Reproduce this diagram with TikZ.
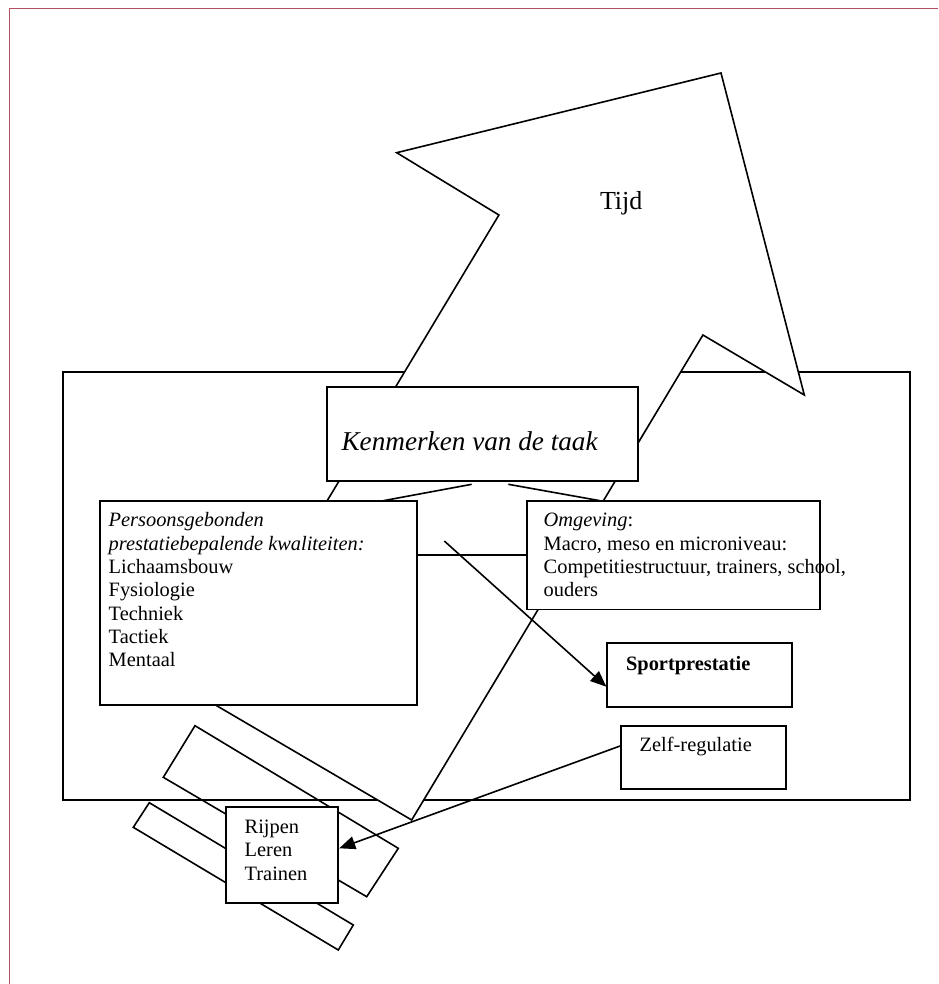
\documentclass[tikz,border=0pt]{standalone}
\usepackage{fontspec}
\setmainfont{Liberation Serif}
\usetikzlibrary{arrows.meta,fit}
\definecolor{pageframe}{RGB}{180,82,98}
\begin{document}
\begin{tikzpicture}[x=0.5pt,y=-0.5pt,
  box/.style={draw, line width=0.95pt, fill=white, inner sep=0pt, rectangle},
  bigline/.style={draw, line width=0.8pt, line join=miter},
  txt/.style={inner sep=0pt, anchor=base west, align=left, font=\fontsize{10.2}{11.65}\selectfont},
  con/.style={draw, line width=0.8pt},
  arr/.style={con, -{Triangle[length=8pt,width=6.5pt]}}
]
\useasboundingbox (0,0) rectangle (938,984);
% page frame
\draw[pageframe, line width=0.7pt] (9.3,984) -- (9.3,8.3) -- (938,8.3);
% outer rectangle
\node[box, fill=none, fit={(62.7,372.3) (910,800)}] (outer) {};
% big arrow "Tijd"
\coordinate (t1) at (721,73);
\coordinate (t2) at (804.3,395);
\coordinate (t3) at (702.9,335);
\coordinate (t4) at (411.7,820);
\coordinate (t5) at (207.3,700.2);
\coordinate (t6) at (498.9,215);
\coordinate (t7) at (396.7,152.7);
\draw[bigline, fill=white] (t1) -- (t2) -- (t3) -- (t4) -- (t5) -- (t6) -- (t7) -- cycle;
\node[anchor=base west, inner sep=0pt, font=\fontsize{13}{15}\selectfont] (tijd) at (599.6,209.3) {Tijd};
% tilted bars
\draw[bigline] (195,725.7) -- (398.3,848.3) -- (366.7,896.7) -- (163.3,777.3) -- cycle;
\draw[bigline] (149.3,802.7) -- (353.3,925) -- (338.3,950) -- (133.3,827.3) -- cycle;
% boxes
\node[box, fit={(326.7,386.7) (637.8,480.7)}] (taak) {};
\node[box, fit={(100,500.7) (416.7,705)}] (pers) {};
\node[box, fit={(526.7,500.7) (820,609.5)}] (omg) {};
\node[box, fit={(607.3,643.3) (792.3,706.7)}] (sport) {};
\node[box, fit={(621,725.7) (785.7,789)}] (zelf) {};
\node[box, fit={(226,806.7) (338.3,902.7)}] (rlt) {};
% texts (anchor = baseline of the last line)
\node[anchor=base west, inner sep=0pt, font=\fontsize{13.6}{16}\selectfont\itshape] (taaktxt) at (341.2,450) {Kenmerken van de taak};
\node[txt] (perstxt) at (108.3,666.7) {\textit{Persoonsgebonden}\\\textit{prestatiebepalende kwaliteiten:}\\Lichaamsbouw\\Fysiologie\\Techniek\\Tactiek\\Mentaal};
\node[txt] (omgtxt) at (543.3,596.7) {\textit{Omgeving}:\\Macro, meso en microniveau:\\Competitiestructuur, trainers, school,\\ouders};
\node[txt, font=\fontsize{10.2}{11.65}\selectfont\bfseries] (sporttxt) at (625.7,670) {Sportprestatie};
\node[txt] (zelftxt) at (639.3,751) {Zelf-regulatie};
\node[txt] (rlttxt) at (244.3,880) {Rijpen\\Leren\\Trainen};
% connectors
\coordinate (cl1) at (471.7,484.3);
\coordinate (cl2) at (383.3,500.7);
\coordinate (cr1) at (508.3,484.3);
\coordinate (cr2) at (600,500.7);
\draw[con] (cl1) -- (cl2);
\draw[con] (cr1) -- (cr2);
\coordinate (hl) at (470,555);
\draw[con] (pers.east |- hl) -- (omg.west |- hl);
\coordinate (sa) at (444.3,541);
\coordinate (spy) at (0,686.7);
\draw[arr] (sa) -- (sport.west |- spy);
\coordinate (zy) at (0,746);
\coordinate (ry) at (0,848.3);
\draw[arr] (zelf.west |- zy) -- (rlt.east |- ry);
\end{tikzpicture}
\end{document}
